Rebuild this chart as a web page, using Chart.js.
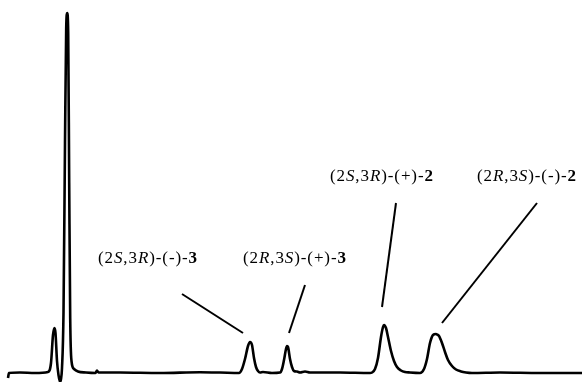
<!DOCTYPE html>
<html>
<head>
<meta charset="utf-8">
<script src="https://cdn.jsdelivr.net/npm/chart.js@4/dist/chart.umd.min.js"></script>
<style>
  html, body { margin: 0; padding: 0; background: #fff; }
  #wrap { width: 582px; height: 382px; }
</style>
</head>
<body>
<div id="wrap"><canvas id="c" width="582" height="382"></canvas></div>
<script>
// Retention time (arbitrary units) and detector signal (arbitrary units)
const retentionTime = [
  0.8, 0.9, 2.0, 3.5, 4.8, 5.1, 5.3, 5.45, 5.55, 5.7, 5.85, 6.0, 6.1, 6.2,
  6.35, 6.5, 6.62, 6.72, 6.82, 6.92, 7.02, 7.15, 7.4, 7.8, 8.6, 9.55, 9.7, 9.85,
  12.0, 16.0, 20.0, 22.0, 23.9, 24.2, 24.5, 24.8, 25.0, 25.2, 25.4, 25.6, 25.8, 26.0, 26.3,
  27.2, 28.0, 28.2, 28.4, 28.6, 28.7, 28.8, 29.0, 29.2, 29.4, 29.7, 30.0, 30.5, 31.0, 34.0, 37.0,
  37.2, 37.5, 37.8, 38.1, 38.3, 38.4, 38.6, 38.8, 39.1, 39.4, 39.7, 40.1, 40.5, 41.0,
  42.0, 42.4, 42.7, 43.0, 43.3, 43.6, 43.7, 43.9, 44.2, 44.5, 44.8, 45.2, 45.6, 46.1, 46.6, 47.2,
  50.0, 54.0, 58.2
];
const signal = [
  -5, 0, 0.5, 0, 1, 10, 38, 45, 40, 12, -2, -9, -6, 5,
  60, 230, 345, 360, 340, 190, 55, 12, 4, 1.5, 0.5, 0, 2.5, 0.5,
  0.5, 0, 0.8, 0.5, 0, 4, 14, 27, 31, 28, 15, 6, 2, 0.5, 1,
  0, 0.5, 4, 13, 24, 27, 26, 14, 6, 2, 1.5, 0.5, 1.5, 0.5, 0.5, 0,
  0.5, 4, 15, 36, 46, 48, 45, 36, 22, 12, 6, 2.5, 1, 0.5,
  0, 4, 14, 30, 38, 39, 38.5, 37, 30, 21, 13, 7, 3.5, 1.5, 0.5, 0,
  0.5, 0, 0
];

// Peak labels: [prefix, italic, mid, italic, suffix, bold]
const peakLabels = [
  ["(2", "S", ",3", "R", ")-(-)-", "3"],
  ["(2", "R", ",3", "S", ")-(+)-", "3"],
  ["(2", "S", ",3", "R", ")-(+)-", "2"],
  ["(2", "R", ",3", "S", ")-(-)-", "2"]
];
// Label anchor (left x, centre y) and leader line (x1,y1,x2,y2), in data units
const labelAnchors = [[9.8, 114], [24.3, 114], [33.0, 196], [47.7, 196]];
const leaderLines = [
  [18.2, 79, 24.3, 40],
  [30.5, 88, 28.9, 40],
  [39.6, 170, 38.2, 66],
  [53.7, 170, 44.2, 50]
];

const points = retentionTime.map((t, i) => ({ x: t, y: signal[i] }));

const annotate = {
  id: 'annotate',
  afterDatasetsDraw(chart) {
    const { ctx, scales: { x, y } } = chart;
    ctx.save();
    ctx.strokeStyle = '#000';
    ctx.lineWidth = 2;
    ctx.lineCap = 'butt';
    leaderLines.forEach(l => {
      ctx.beginPath();
      ctx.moveTo(x.getPixelForValue(l[0]), y.getPixelForValue(l[1]));
      ctx.lineTo(x.getPixelForValue(l[2]), y.getPixelForValue(l[3]));
      ctx.stroke();
    });
    const size = 17;
    const spacing = 0.9;
    const fam = "'Liberation Serif', 'DejaVu Serif', serif";
    const styles = ['', 'italic ', '', 'italic ', '', 'bold '];
    ctx.fillStyle = '#000';
    ctx.textBaseline = 'middle';
    ctx.textAlign = 'left';
    peakLabels.forEach((parts, i) => {
      let px = x.getPixelForValue(labelAnchors[i][0]);
      const py = y.getPixelForValue(labelAnchors[i][1]);
      parts.forEach((p, j) => {
        ctx.font = styles[j] + size + 'px ' + fam;
        for (const ch of p) {
          ctx.fillText(ch, px, py);
          px += ctx.measureText(ch).width + spacing;
        }
      });
    });
    ctx.restore();
  }
};

new Chart(document.getElementById('c'), {
  type: 'line',
  data: {
    datasets: [{
      data: points,
      borderColor: '#000',
      borderWidth: 2.6,
      pointRadius: 0,
      cubicInterpolationMode: 'monotone',
      fill: false
    }]
  },
  options: {
    responsive: false,
    animation: false,
    events: [],
    layout: { padding: 0 },
    plugins: { legend: { display: false }, tooltip: { enabled: false } },
    scales: {
      x: { type: 'linear', min: 0, max: 58.2, display: false },
      y: { type: 'linear', min: -9, max: 373, display: false }
    }
  },
  plugins: [annotate]
});
</script>
</body>
</html>
